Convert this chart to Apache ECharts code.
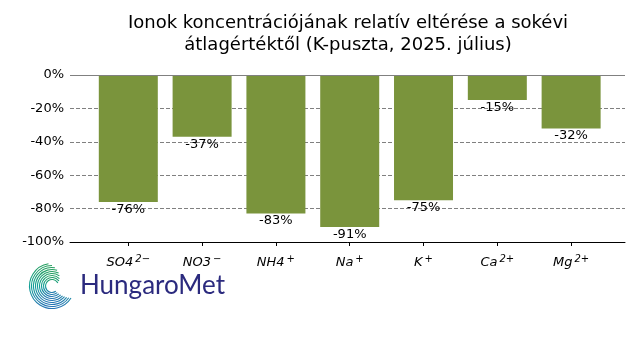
<!DOCTYPE html>
<html>
<head>
<meta charset="utf-8">
<script src="https://cdn.jsdelivr.net/npm/echarts@6/dist/echarts.min.js"></script>
<style>html,body{margin:0;padding:0;background:#fff}#c{width:640px;height:360px}</style>
</head>
<body>
<div id="c"></div>
<script>
const ionBase = ['SO4', 'NO3', 'NH4', 'Na', 'K', 'Ca', 'Mg'];
const ionCharge = ['2\u2212', '\u2212', '+', '+', '+', '2+', '2+'];
const values = [-76, -37, -83, -91, -75, -15, -32];
const yTicks = [0, -20, -40, -60, -80, -100];
const titleText = 'Ionok koncentrációjának relatív eltérése a sokévi\nátlagértéktől (K-puszta, 2025. július)';

const chart = echarts.init(document.getElementById('c'), null, {renderer: 'canvas'});
const positions = ionBase.map((_, i) => i);

// logo arcs
const cx = 52, cy = 286;
const arcs = [];
for (let k = 0; k < 9; k++) {
  const r = 6.5 + k * 2;
  arcs.push({
    type: 'arc',
    shape: {cx: cx, cy: cy, r: r, startAngle: Math.PI * (0.30 - k * 0.015), endAngle: Math.PI * (1.85 - k * 0.05), clockwise: true},
    style: {
      stroke: new echarts.graphic.LinearGradient(0, 0, 0, 1, [
        {offset: 0, color: '#2aa05a'}, {offset: 0.5, color: '#12a097'}, {offset: 1, color: '#2a6fb8'}
      ]),
      lineWidth: 1.1, fill: null
    },
    silent: true
  });
}

chart.setOption({
  animation: false,
  backgroundColor: '#ffffff',
  title: {
    text: titleText,
    left: 343, top: 7, textAlign: 'center',
    textStyle: {fontFamily: 'DejaVu Sans', fontSize: 18, fontWeight: 'normal', color: '#000', lineHeight: 22}
  },
  grid: {left: 70, right: 15, top: 75, bottom: 118, containLabel: false},
  xAxis: {
    type: 'value', min: -0.79, max: 6.73,
    axisLine: {show: true, onZero: false, lineStyle: {color: '#000', width: 1}},
    axisTick: {show: true, length: 4, customValues: positions, lineStyle: {color: '#000'}},
    splitLine: {show: false},
    axisLabel: {
      customValues: positions,
      margin: 12,
      formatter: function (v) { const i = Math.round(v); return '{b|' + ionBase[i] + '}{s|' + ionCharge[i] + '}'; },
      rich: {
        b: {fontFamily: 'DejaVu Sans', fontStyle: 'italic', fontSize: 13, color: '#000'},
        s: {fontFamily: 'DejaVu Sans', fontStyle: 'italic', fontSize: 10, color: '#000', padding: [0, 0, 7, 2]}
      }
    }
  },
  yAxis: {
    type: 'value', min: -100, max: 0, interval: 20,
    axisLine: {show: false},
    axisTick: {show: true, length: 4, lineStyle: {color: '#000'}},
    axisLabel: {formatter: v => v + '%', fontFamily: 'DejaVu Sans', fontSize: 13, color: '#000', margin: 6},
    splitLine: {show: true, lineStyle: {color: '#808080', type: [4, 2], width: 1}}
  },
  graphic: arcs.concat([{
    type: 'text', left: 80, top: 273,
    style: {text: 'HungaroMet', fontFamily: 'Lato', fontWeight: 'normal', fontSize: 26, fill: '#2b2a7e'},
    silent: true
  }]),
  series: [{
    type: 'bar',
    barWidth: 59,
    data: values.map((v, i) => [i, v]),
    itemStyle: {color: '#7a943c'},
    label: {
      show: true, position: 'bottom', distance: 1,
      formatter: p => Math.round(p.value[1]) + '%',
      fontFamily: 'DejaVu Sans', fontSize: 13, color: '#000'
    },
    markLine: {
      silent: true, symbol: 'none', label: {show: false},
      lineStyle: {color: '#808080', type: 'solid', width: 1},
      data: [{yAxis: 0}]
    }
  }]
});
</script>
</body>
</html>
